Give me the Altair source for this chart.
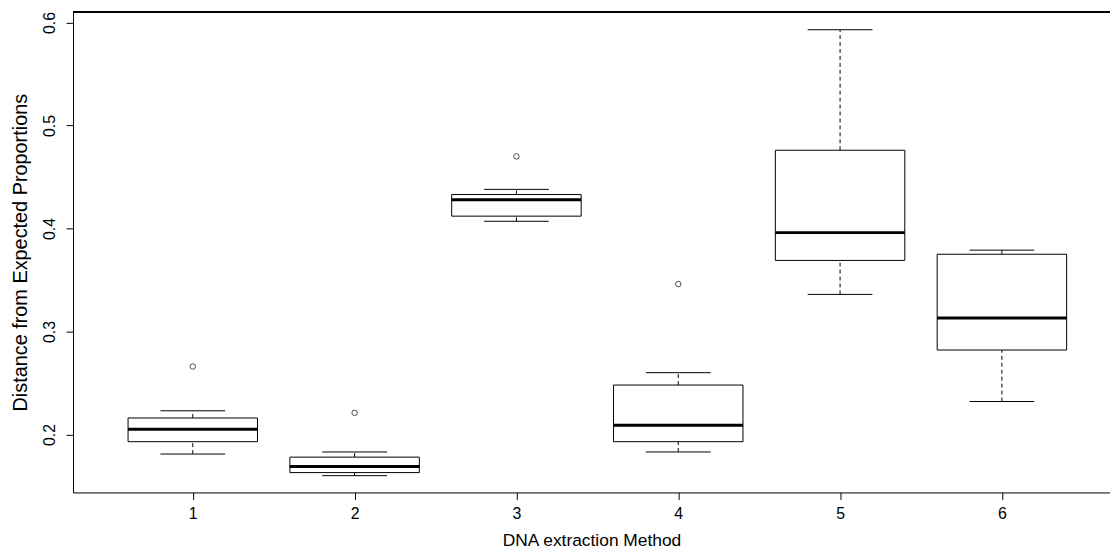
import altair as alt
import pandas as pd

# ---- data ----
methods = [1, 2, 3, 4, 5, 6]
whisker_low = [0.181, 0.160, 0.407, 0.183, 0.336, 0.232]
q1 = [0.193, 0.163, 0.412, 0.193, 0.369, 0.282]
median = [0.205, 0.169, 0.428, 0.209, 0.396, 0.313]
q3 = [0.216, 0.178, 0.433, 0.248, 0.476, 0.375]
whisker_high = [0.223, 0.183, 0.438, 0.260, 0.593, 0.379]
outlier_method = [1, 2, 3, 4]
outlier_value = [0.266, 0.221, 0.470, 0.346]
y_ticks = [0.2, 0.3, 0.4, 0.5, 0.6]
x_ticks = [1, 2, 3, 4, 5, 6]

stats = pd.DataFrame({
    "method": methods, "lo": whisker_low, "q1": q1,
    "med": median, "q3": q3, "hi": whisker_high,
})
outs = pd.DataFrame({"method": outlier_method, "value": outlier_value})

FONT = "Liberation Sans"
W = 1044.5
H = 484
x_scale = alt.Scale(domain=[0.26, 0.26 + W / 163.0], nice=False, zero=False)
y_scale = alt.Scale(domain=[0.1437, 0.6103], nice=False, zero=False)

x_axis = alt.Axis(values=x_ticks, format="d", title="DNA extraction Method",
                  tickSize=7, labelPadding=6, labelFontSize=16,
                  titleFontSize=17.5, titleFontWeight="normal",
                  titleBaseline="alphabetic", titleY=53, titleAnchor="middle",
                  labelFont=FONT, titleFont=FONT)
y_axis = alt.Axis(values=y_ticks, format=".1f", title="Distance from Expected Proportions",
                  tickSize=7, labelPadding=11.5, labelAngle=270, labelAlign="center",
                  labelBaseline="alphabetic", labelFontSize=16,
                  titleFontSize=20, titleFontWeight="normal", titleAngle=270,
                  titleBaseline="alphabetic", titleAlign="center",
                  titleX=-47, titleY=H / 2,
                  labelFont=FONT, titleFont=FONT)

base = alt.Chart(stats).transform_calculate(
    xl="datum.method - 0.4", xr="datum.method + 0.4",
    cl="datum.method - 0.2", cr="datum.method + 0.2",
)

whisk_hi = base.mark_rule(color="black", strokeWidth=1, strokeDash=[4, 3]).encode(
    x=alt.X("method:Q", scale=x_scale, axis=x_axis),
    y=alt.Y("q3:Q", scale=y_scale, axis=y_axis),
    y2="hi:Q",
)
whisk_lo = base.mark_rule(color="black", strokeWidth=1, strokeDash=[4, 3]).encode(
    x="method:Q", y="lo:Q", y2="q1:Q",
)
cap_hi = base.mark_rule(color="black", strokeWidth=1).encode(
    x="cl:Q", x2="cr:Q", y="hi:Q",
)
cap_lo = base.mark_rule(color="black", strokeWidth=1).encode(
    x="cl:Q", x2="cr:Q", y="lo:Q",
)
boxes = base.mark_rect(fill="white", stroke="black", strokeWidth=1).encode(
    x="xl:Q", x2="xr:Q", y="q1:Q", y2="q3:Q",
)
medians = base.mark_rule(color="black", strokeWidth=3).encode(
    x="xl:Q", x2="xr:Q", y="med:Q",
)
points = alt.Chart(outs).mark_point(shape="circle", filled=False, size=30,
                                    stroke="black", strokeWidth=1).encode(
    x="method:Q", y="value:Q",
)
top_line = alt.Chart(stats).mark_rule(color="black", strokeWidth=1).encode(
    x=alt.value(0), x2=alt.value(W), y=alt.value(0),
)

chart = alt.layer(whisk_hi, whisk_lo, cap_hi, cap_lo, boxes, medians, points, top_line).properties(
    width=W, height=H,
    autosize=alt.AutoSizeParams(type="none"),
    padding={"left": 65.5, "top": 2, "right": 0, "bottom": 57},
    background="white",
).configure_view(stroke=None).configure_axis(
    grid=False, domainColor="black", tickColor="black", labelColor="black",
    titleColor="black", domainWidth=1, tickWidth=1,
)

chart.save("out.html", embed_options={"renderer": "svg", "actions": False})
